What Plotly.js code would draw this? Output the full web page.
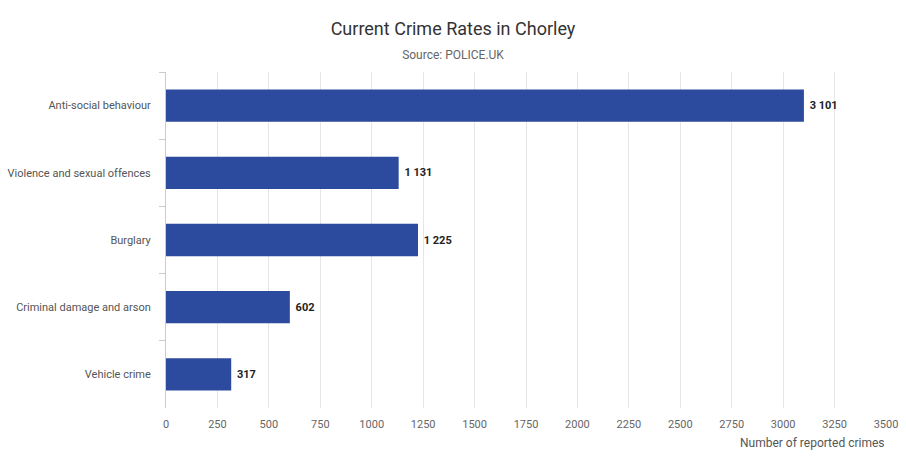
<!DOCTYPE html>
<html>
<head>
<meta charset="utf-8">
<script src="https://cdn.plot.ly/plotly-3.0.1.min.js"></script>
<style>html,body{margin:0;padding:0;background:#fff;}#chart{width:906px;height:470px;}</style>
</head>
<body>
<div id="chart"></div>
<script>
var categories = ["Anti-social behaviour", "Violence and sexual offences", "Burglary", "Criminal damage and arson", "Vehicle crime"];
var crimeCounts = [3101, 1131, 1225, 602, 317];
var xTicks = [0, 250, 500, 750, 1000, 1250, 1500, 1750, 2000, 2250, 2500, 2750, 3000, 3250, 3500];

var trace = {
  type: "bar",
  orientation: "h",
  y: categories,
  x: crimeCounts,
  marker: {color: "#2c4a9e"},
  width: 0.48,
  text: crimeCounts,
  texttemplate: "&nbsp;<b>%{x:,d}</b>",
  textposition: "outside",
  textfont: {family: "Roboto, sans-serif", size: 11, color: "#222"},
  cliponaxis: false,
  hoverinfo: "skip"
};

var layout = {
  width: 906,
  height: 470,
  separators: ". ",
  margin: {l: 166, r: 20, t: 72, b: 62},
  paper_bgcolor: "#fff",
  plot_bgcolor: "#fff",
  font: {family: "Roboto, sans-serif", color: "#555"},
  showlegend: false,
  title: {
    text: "Current Crime Rates in Chorley<br><span style='font-size:12px;color:#666'>Source: POLICE.UK</span>",
    font: {family: "Roboto, sans-serif", size: 18, color: "#333"},
    x: 0.5, xanchor: "center", y: 0.925, yanchor: "top", yref: "container"
  },
  xaxis: {
    range: [0, 3500],
    tickvals: xTicks,
    ticktext: xTicks.map(String),
    showgrid: true,
    gridcolor: "#e6e6e6",
    gridwidth: 1,
    zeroline: false,
    showline: false,
    ticks: "",
    ticklabelstandoff: 8,
    tickfont: {family: "Roboto, sans-serif", size: 11, color: "#666"},
    fixedrange: true
  },
  yaxis: {
    autorange: "reversed",
    type: "category",
    showgrid: false,
    zeroline: false,
    showline: true,
    linecolor: "#ccc",
    linewidth: 1,
    ticks: "outside",
    tickson: "boundaries",
    ticklen: 6,
    tickcolor: "#ccc",
    ticklabelstandoff: 12,
    tickfont: {family: "Roboto, sans-serif", size: 11, color: "#555"},
    fixedrange: true
  },
  annotations: [{
    text: "Number of reported crimes",
    xref: "paper", yref: "paper",
    x: 1, y: 0, xanchor: "right", yanchor: "top",
    yshift: -26,
    showarrow: false,
    font: {family: "Roboto, sans-serif", size: 12, color: "#555"}
  }]
};

Plotly.newPlot("chart", [trace], layout, {displayModeBar: false, staticPlot: true});
</script>
</body>
</html>
